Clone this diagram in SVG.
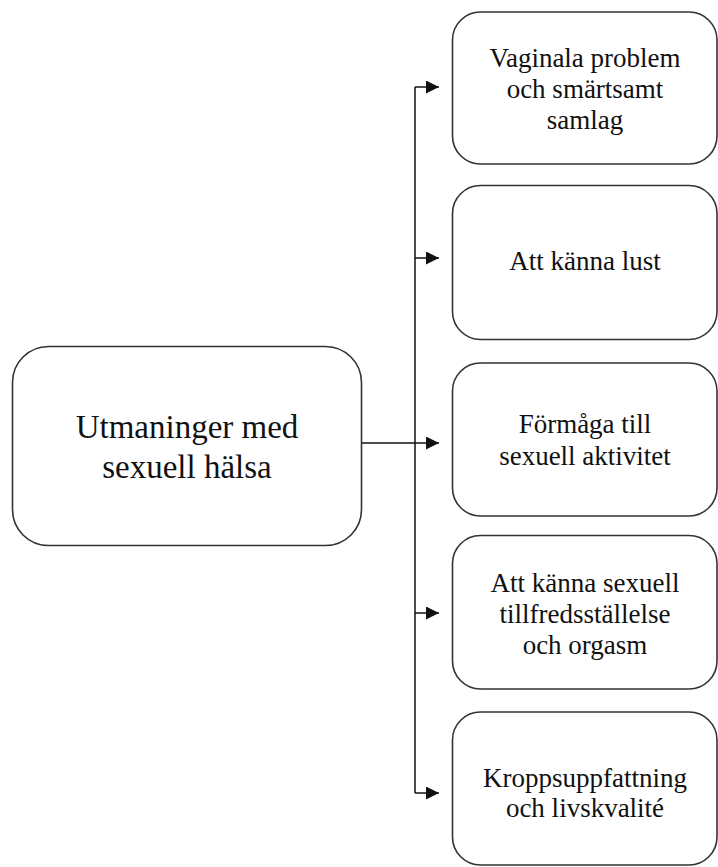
<svg xmlns="http://www.w3.org/2000/svg" width="718" height="867" viewBox="0 0 718 867">
<style>
.box{fill:#fff;stroke:#333;stroke-width:1.6}
.t{font-family:"Liberation Serif","Times New Roman",serif;fill:#111;text-anchor:middle}
.s{font-size:27px}
.l{font-size:33px}
.c{fill:none;stroke:#111;stroke-width:1.5}
</style>
<defs>
<marker id="ah" viewBox="0 0 13 13" refX="13" refY="6.5" markerWidth="13" markerHeight="13" markerUnits="userSpaceOnUse" orient="auto">
<path d="M0,0 L13,6.5 L0,13 Z" fill="#111"/>
</marker>
</defs>
<rect width="718" height="867" fill="#fff"/>
<g id="connectors">
<path class="c" d="M415,87 V793"/>
<path class="c" d="M362,443 H415"/>
<path class="c" d="M415,87 H439" marker-end="url(#ah)"/>
<path class="c" d="M415,258 H439" marker-end="url(#ah)"/>
<path class="c" d="M415,443 H439" marker-end="url(#ah)"/>
<path class="c" d="M415,613 H439" marker-end="url(#ah)"/>
<path class="c" d="M415,793 H439" marker-end="url(#ah)"/>
</g>
<g id="main">
<rect class="box" x="12.5" y="346.5" width="349" height="199" rx="36" ry="36"/>
<text class="t l" x="187" y="438">Utmaninger med</text>
<text class="t l" x="187" y="478">sexuell hälsa</text>
</g>
<g id="n1">
<rect class="box" x="452.5" y="12" width="264.5" height="152" rx="28" ry="28"/>
<text class="t s" x="585" y="67">Vaginala problem</text>
<text class="t s" x="585" y="98">och smärtsamt</text>
<text class="t s" x="585" y="129">samlag</text>
</g>
<g id="n2">
<rect class="box" x="452.5" y="185.5" width="264.5" height="154" rx="28" ry="28"/>
<text class="t s" x="585" y="270">Att känna lust</text>
</g>
<g id="n3">
<rect class="box" x="452.5" y="363" width="264.5" height="153" rx="28" ry="28"/>
<text class="t s" x="585" y="433">Förmåga till</text>
<text class="t s" x="585" y="465">sexuell aktivitet</text>
</g>
<g id="n4">
<rect class="box" x="452.5" y="535.5" width="264.5" height="153.5" rx="28" ry="28"/>
<text class="t s" x="585" y="592">Att känna sexuell</text>
<text class="t s" x="585" y="623">tillfredsställelse</text>
<text class="t s" x="585" y="654">och orgasm</text>
</g>
<g id="n5">
<rect class="box" x="452.5" y="712" width="264.5" height="153" rx="28" ry="28"/>
<text class="t s" x="585" y="787">Kroppsuppfattning</text>
<text class="t s" x="585" y="817">och livskvalité</text>
</g>
</svg>
